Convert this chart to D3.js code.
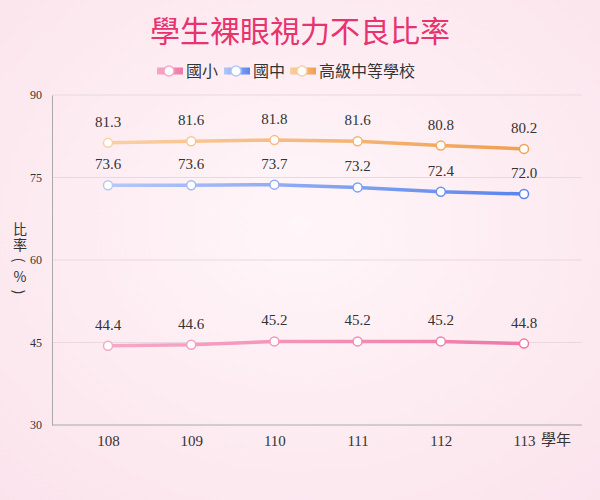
<!DOCTYPE html>
<html><head><meta charset="utf-8">
<script src="https://cdn.jsdelivr.net/npm/d3@7"></script>
<style>body{margin:0;}svg{display:block;}</style>
</head><body>
<script>
var years = ["108","109","110","111","112","113"];
var elementary = [44.4,44.6,45.2,45.2,45.2,44.8];
var junior = [73.6,73.6,73.7,73.2,72.4,72.0];
var senior = [81.3,81.6,81.8,81.6,80.8,80.2];
var yTicks = [30,45,60,75,90];

var series = [
  {name:"國小", values:elementary, c0:"#f7a8c6", c1:"#ef78a8"},
  {name:"國中", values:junior, c0:"#b4c8f8", c1:"#5a84ee"},
  {name:"高級中等學校", values:senior, c0:"#fbcfa4", c1:"#f0a050"}
];

var svg = d3.select("body").append("svg").attr("width",600).attr("height",500);
var defs = svg.append("defs");
var bg = defs.append("radialGradient").attr("id","bg").attr("cx","50%").attr("cy","45%").attr("r","75%");
bg.append("stop").attr("offset","0%").attr("stop-color","#fff6f9");
bg.append("stop").attr("offset","100%").attr("stop-color","#fbe3ec");
svg.append("rect").attr("width",600).attr("height",500).attr("fill","url(#bg)");

series.forEach(function(s,i){
  var g = defs.append("linearGradient").attr("id","lg"+i).attr("gradientUnits","userSpaceOnUse")
    .attr("x1",108).attr("x2",524).attr("y1",0).attr("y2",0);
  g.append("stop").attr("offset","0%").attr("stop-color",s.c0);
  g.append("stop").attr("offset","100%").attr("stop-color",s.c1);
  var lg = defs.append("linearGradient").attr("id","leg"+i);
  lg.append("stop").attr("offset","0%").attr("stop-color",s.c0);
  lg.append("stop").attr("offset","100%").attr("stop-color",s.c1);
});

var x = d3.scalePoint().domain(years).range([108,524]);
var y = d3.scaleLinear().domain([30,90]).range([425,95]);

svg.append("text").attr("x",300).attr("y",42).attr("text-anchor","middle")
  .attr("font-family","Noto Sans CJK TC").attr("font-size",30).attr("fill","#e8336e")
  .text("學生裸眼視力不良比率");

// legend
var legX = [157,224,290];
series.forEach(function(s,i){
  var lg = svg.append("g").attr("transform","translate("+legX[i]+",71)");
  lg.append("rect").attr("x",0).attr("y",-3.5).attr("width",26).attr("height",7).attr("fill","url(#leg"+i+")");
  lg.append("circle").attr("cx",12).attr("cy",0).attr("r",5).attr("fill","#fff").attr("stroke",s.c0).attr("stroke-width",1.5);
  lg.append("text").attr("x",29).attr("y",6).attr("font-family","Noto Sans CJK TC").attr("font-size",16).attr("fill","#333").text(s.name);
});

// grid
svg.append("g").selectAll("line").data(yTicks.slice(1)).enter().append("line")
  .attr("x1",52).attr("x2",582).attr("y1",d=>y(d)).attr("y2",d=>y(d))
  .attr("stroke","#ead8df").attr("stroke-width",1);

svg.append("g").attr("transform","translate(52,0)")
  .call(d3.axisLeft(y).tickValues(yTicks).tickSize(0).tickPadding(10))
  .call(g=>{g.select(".domain").attr("stroke","#aaa");
    g.selectAll("text").attr("font-family","Liberation Serif").attr("font-size",12).attr("fill","#333");});
svg.append("g").attr("transform","translate(0,425)")
  .call(d3.axisBottom(x).tickSize(0).tickPadding(10))
  .call(g=>{g.select(".domain").attr("d","M52,0H582").attr("stroke","#aaa");
    g.selectAll("text").attr("font-family","Liberation Serif").attr("font-size",15).attr("fill","#333");});

svg.append("text").attr("x",541).attr("y",445).attr("font-family","Noto Sans CJK TC").attr("font-size",15).attr("fill","#333").text("學年");
["比","率","(","%",")"].forEach(function(c,i){
  var cy = 228+i*16;
  var t = svg.append("text").attr("x",20).attr("y",cy).attr("text-anchor","middle")
    .attr("dominant-baseline","central")
    .attr("font-family","Noto Sans CJK TC").attr("font-size",14).attr("fill","#333").text(c);
  if(c=="("||c==")") t.attr("transform","rotate(90,20,"+cy+")");
});

var line = d3.line().x((d,i)=>x(years[i])).y(d=>y(d));
series.forEach(function(s,i){
  var g = svg.append("g");
  g.append("path").datum(s.values).attr("d",line).attr("fill","none")
    .attr("stroke","url(#lg"+i+")").attr("stroke-width",3.5);
  g.selectAll("circle").data(s.values).enter().append("circle")
    .attr("cx",(d,j)=>x(years[j])).attr("cy",d=>y(d)).attr("r",4.5)
    .attr("fill","#fff").attr("stroke",(d,j)=>d3.interpolateRgb(s.c0,s.c1)(j/5)).attr("stroke-width",1.5);
  g.selectAll("text").data(s.values).enter().append("text")
    .attr("x",(d,j)=>x(years[j])).attr("y",d=>y(d)-16).attr("text-anchor","middle")
    .attr("font-family","Liberation Serif").attr("font-size",15).attr("fill","#333")
    .text(d=>d.toFixed(1));
});
</script>
</body></html>
